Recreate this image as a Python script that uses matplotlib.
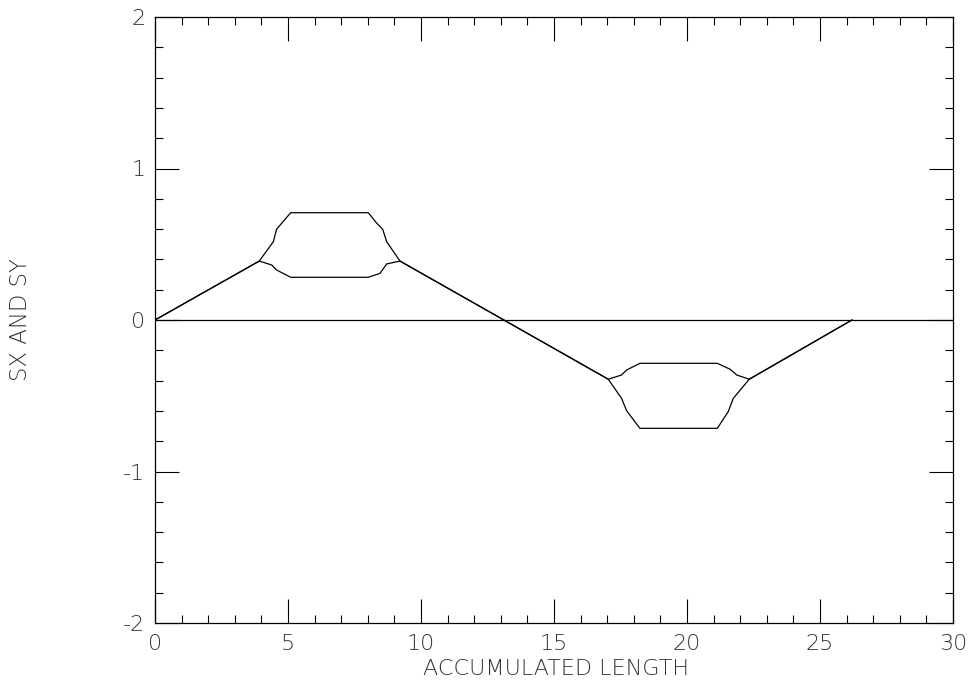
import matplotlib
matplotlib.use("Agg")
import matplotlib.pyplot as plt
from matplotlib.ticker import MultipleLocator

plt.rcParams["axes.unicode_minus"] = False

# --- curve points (accumulated length, value) ---
sx_len = [0.0, 3.92, 4.45, 4.57, 5.10, 8.02, 8.33, 8.56, 8.71, 9.21,
          17.04, 17.54, 17.73, 18.23, 21.14, 21.62, 21.87, 22.34, 26.2]
sx_val = [0.0, 0.389, 0.517, 0.599, 0.708, 0.708, 0.640, 0.599, 0.517, 0.389,
          -0.391, -0.363, -0.330, -0.286, -0.286, -0.325, -0.363, -0.391, 0.0]

sy_len = [0.0, 3.92, 4.39, 4.57, 5.10, 8.02, 8.46, 8.71, 9.21,
          17.04, 17.54, 17.73, 18.23, 21.14, 21.55, 21.74, 22.34, 26.2]
sy_val = [0.0, 0.389, 0.363, 0.330, 0.282, 0.282, 0.308, 0.370, 0.389,
          -0.391, -0.517, -0.599, -0.715, -0.715, -0.605, -0.517, -0.391, 0.0]

xticks = [0, 5, 10, 15, 20, 25, 30]
yticks = [-2, -1, 0, 1, 2]

font = "DejaVu Sans"
txt_color = "#333333"

fig = plt.figure(figsize=(9.72, 6.84), dpi=100)
ax = fig.add_axes([155 / 972, 1 - 623 / 684, 798 / 972, 606 / 684])

ax.axhline(0, color="black", lw=0.9)
ax.plot(sx_len, sx_val, color="black", lw=0.9)
ax.plot(sy_len, sy_val, color="black", lw=0.9)

ax.set_xlim(0, 30)
ax.set_ylim(-2, 2)
ax.set_xticks(xticks)
ax.set_yticks(yticks)
ax.xaxis.set_minor_locator(MultipleLocator(1))
ax.yaxis.set_minor_locator(MultipleLocator(0.2))

ax.tick_params(which="both", direction="in", top=True, right=True,
               width=0.8, color="black")
ax.tick_params(which="major", length=17.3)
ax.tick_params(which="minor", length=5.8)
ax.tick_params(axis="x", which="major", pad=8)
ax.tick_params(axis="y", which="major", pad=7)

for lab in ax.get_xticklabels() + ax.get_yticklabels():
    lab.set_fontfamily(font)
    lab.set_fontsize(16)
    lab.set_fontweight("light")
    lab.set_color(txt_color)

for sp in ax.spines.values():
    sp.set_linewidth(0.9)

fig.text(556 / 972, 1 - 669 / 684, "ACCUMULATED LENGTH", fontsize=16,
         family=font, weight="light", color=txt_color, ha="center", va="center")
fig.text(21 / 972, 1 - 320 / 684, "SX AND SY", rotation=90, fontsize=16.5,
         family=font, weight="light", color=txt_color, ha="center", va="center")

fig.savefig("out.png", dpi=100)
